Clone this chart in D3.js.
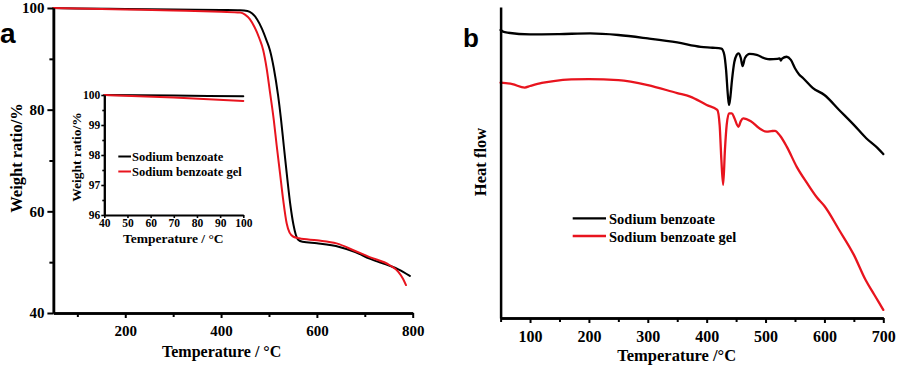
<!DOCTYPE html>
<html><head><meta charset="utf-8">
<script src="https://cdn.jsdelivr.net/npm/d3@7"></script>
<style>
html,body{margin:0;padding:0;background:#fff;}
svg text{font-family:"Liberation Serif","Times New Roman",serif;font-weight:bold;fill:#000;}
</style></head>
<body><svg id="c" width="898" height="367"></svg>
<script>
// ---------- DATA ----------
// Panel a: TGA, Temperature (°C) vs Weight ratio (%)
const tgaBenzoate = [[50,100],[100,99.9],[200,99.8],[300,99.7],[400,99.6],[440,99.55],[455,99.4],[465,98.9],[475,97.8],[485,96.0],[495,93.6],[502,91.7],[510,88.2],[519,82.8],[525,78.2],[531,72.8],[537,67.5],[545,61.0],[551,57.4],[556,55.4],[561,54.4],[570,54.0],[600,53.7],[647,53.0],[680,52.0],[710,50.7],[752,49.3],[770,48.6],[794,47.3]];
const tgaGel = [[50,100],[100,99.9],[200,99.7],[300,99.5],[400,99.25],[440,99.1],[450,98.7],[460,97.8],[470,96.2],[480,94.0],[488,91.7],[495,88.2],[502,83.5],[510,78.0],[516,73.0],[523,67.5],[530,62.0],[537,57.6],[543,55.8],[551,55.0],[563,54.7],[600,54.3],[641,53.7],[680,52.2],[710,51.0],[752,49.4],[770,48.1],[780,46.7],[786,45.5]];
// Inset (40-100 °C)
const insetBenzoate = [[40,100],[70,99.98],[100,99.96]];
const insetGel = [[40,100],[70,99.92],[100,99.8]];
// Panel b: DSC, Temperature (°C) vs Heat flow (arbitrary units)
const dscBenzoate = [[50,92.6],[57,91.9],[100,91.2],[150,91.3],[202,91.5],[250,91.0],[300,89.9],[350,88.6],[390,87.2],[410,86.9],[425,86.6],[430,84.6],[433,79.7],[436,71.7],[438,68.5],[440,70.7],[443,76.5],[447,82.3],[451,84.6],[454,85.1],[458,83.6],[461,81.0],[465,83.6],[473,84.9],[485,84.6],[500,83.4],[507,83.2],[520,83.3],[524,83.5],[526,82.8],[528,83.4],[536,84.0],[543,83.0],[550,80.3],[557,78.3],[564,77.1],[580,74.0],[600,71.7],[625,66.9],[650,62.1],[671,57.8],[690,54.7],[700,52.7]];
const dscGel = [[50,75.7],[70,75.2],[91,74.1],[100,74.6],[120,75.6],[140,76.2],[170,76.7],[200,76.8],[250,76.5],[300,74.9],[350,72.3],[372,71.2],[400,68.5],[418,66.9],[422,62.1],[425,50.8],[428,42.8],[431,54.0],[434,62.1],[438,65.8],[443,65.8],[447,64.3],[454,61.5],[458,63.3],[462,64.2],[475,63.3],[490,60.9],[502,59.9],[510,60.1],[516,60.2],[525,58.5],[536,55.1],[553,48.6],[570,43.5],[587,38.8],[600,36.0],[625,28.3],[650,20.3],[670,12.2],[685,7.4],[700,2.6]];
// Ticks and labels
const aXMajor = [200,400,600,800], aXMinor = [100,300,500,700];
const aYMajor = [40,60,80,100], aYMinor = [50,70,90];
const inXMajor = [40,50,60,70,80,90,100], inYMajor = [96,97,98,99,100], inYMinor = [96.5,97.5,98.5,99.5];
const bXMajor = [100,200,300,400,500,600,700], bXMinor = [50,150,250,350,450,550,650];
const seriesNames = ["Sodium benzoate","Sodium benzoate gel"];
const colors = ["#000000","#e8141e"];

// ---------- DRAW ----------
const svg = d3.select("#c");
const fmt = d3.format("d");

function axisGroup(g, axis, w){
  g.call(axis);
  g.select(".domain").attr("stroke","#000").attr("stroke-width",w);
  g.selectAll(".tick line").attr("stroke","#000").attr("stroke-width",w*0.8);
  return g;
}
function drawLine(g, data, x, y, color, w){
  g.append("path").datum(data)
    .attr("fill","none").attr("stroke",color).attr("stroke-width",w)
    .attr("stroke-linejoin","round").attr("stroke-linecap","round")
    .attr("d", d3.line().x(d=>x(d[0])).y(d=>y(d[1])).curve(d3.curveMonotoneX));
}

// Panel a
const ax = d3.scaleLinear().domain([50,800]).range([53.4,412.7]);
const ay = d3.scaleLinear().domain([40,100]).range([313,8]);
const ga = svg.append("g");
drawLine(ga, tgaBenzoate, ax, ay, colors[0], 2);
drawLine(ga, tgaGel, ax, ay, colors[1], 2);
axisGroup(ga.append("g").attr("transform","translate(0,313)"),
  d3.axisBottom(ax).tickValues(aXMinor).tickSize(4).tickSizeOuter(0).tickFormat(""), 2.5);
axisGroup(ga.append("g").attr("transform","translate(0,313)"),
  d3.axisBottom(ax).tickValues(aXMajor).tickSize(5).tickPadding(7).tickSizeOuter(0).tickFormat(fmt), 2.5)
  .selectAll("text").style("font-size","15px");
axisGroup(ga.append("g").attr("transform","translate(53.4,0)"),
  d3.axisLeft(ay).tickValues(aYMinor).tickSize(4).tickSizeOuter(0).tickFormat(""), 2.5);
axisGroup(ga.append("g").attr("transform","translate(53.4,0)"),
  d3.axisLeft(ay).tickValues(aYMajor).tickSize(6).tickPadding(3).tickSizeOuter(0).tickFormat(fmt), 2.5)
  .selectAll("text").style("font-size","15px");
ga.append("text").attr("x",221.7).attr("y",357).attr("text-anchor","middle")
  .style("font-size","16px").text("Temperature / °C");
ga.append("text").attr("transform","translate(22,158) rotate(-90)").attr("text-anchor","middle")
  .style("font-size","16.5px").text("Weight ratio/%");
ga.append("text").attr("x",0).attr("y",43)
  .style("font-family","'Liberation Sans',Arial,sans-serif").style("font-size","28px").text("a");

// Inset
const ix = d3.scaleLinear().domain([40,100]).range([104.3,243.3]);
const iy = d3.scaleLinear().domain([96,100]).range([215,95]);
const gi = svg.append("g");
drawLine(gi, insetBenzoate, ix, iy, colors[0], 2);
drawLine(gi, insetGel, ix, iy, colors[1], 2);
axisGroup(gi.append("g").attr("transform","translate(0,215)"),
  d3.axisBottom(ix).tickValues(inXMajor).tickSize(3).tickPadding(1).tickSizeOuter(0).tickFormat(fmt), 2)
  .selectAll("text").style("font-size","11.5px");
axisGroup(gi.append("g").attr("transform","translate(104.3,0)"),
  d3.axisLeft(iy).tickValues(inYMinor).tickSize(2).tickSizeOuter(0).tickFormat(""), 2);
axisGroup(gi.append("g").attr("transform","translate(104.3,0)"),
  d3.axisLeft(iy).tickValues(inYMajor).tickSize(3).tickPadding(1).tickSizeOuter(0).tickFormat(fmt), 2)
  .selectAll("text").style("font-size","11.5px");
gi.append("text").attr("x",173.3).attr("y",243).attr("text-anchor","middle")
  .style("font-size","13.5px").text("Temperature / °C");
gi.append("text").attr("transform","translate(81,157) rotate(-90)").attr("text-anchor","middle")
  .style("font-size","13.5px").text("Weight ratio/%");
const legA = [156.5,171.5];
seriesNames.forEach((n,i)=>{
  gi.append("line").attr("x1",118.3).attr("x2",131).attr("y1",legA[i]).attr("y2",legA[i])
    .attr("stroke",colors[i]).attr("stroke-width",2);
  gi.append("text").attr("x",132).attr("y",legA[i]+4).style("font-size","12.5px").text(n);
});

// Panel b
const bx = d3.scaleLinear().domain([50,700]).range([500.6,883.3]);
const by = d3.scaleLinear().domain([0,100]).range([318,7]);
const gb = svg.append("g");
drawLine(gb, dscBenzoate, bx, by, colors[0], 2.3);
drawLine(gb, dscGel, bx, by, colors[1], 2.3);
axisGroup(gb.append("g").attr("transform","translate(0,318)"),
  d3.axisBottom(bx).tickValues(bXMinor).tickSize(4).tickSizeOuter(0).tickFormat(""), 2.5);
axisGroup(gb.append("g").attr("transform","translate(0,318)"),
  d3.axisBottom(bx).tickValues(bXMajor).tickSize(5).tickPadding(8).tickSizeOuter(0).tickFormat(fmt), 2.5)
  .selectAll("text").style("font-size","16px");
axisGroup(gb.append("g").attr("transform","translate(500.6,0)"),
  d3.axisLeft(by).tickValues([]).tickSizeOuter(0), 2.5);
gb.append("text").attr("x",676.7).attr("y",361).attr("text-anchor","middle")
  .style("font-size","16.5px").text("Temperature /°C");
gb.append("text").attr("transform","translate(486,162) rotate(-90)").attr("text-anchor","middle")
  .style("font-size","16.5px").text("Heat flow");
gb.append("text").attr("x",463).attr("y",46.5)
  .style("font-family","'Liberation Sans',Arial,sans-serif").style("font-size","26px").text("b");
const legB = [218.3,236];
seriesNames.forEach((n,i)=>{
  gb.append("line").attr("x1",572.7).attr("x2",606).attr("y1",legB[i]).attr("y2",legB[i])
    .attr("stroke",colors[i]).attr("stroke-width",2.3);
  gb.append("text").attr("x",609).attr("y",legB[i]+5.5).style("font-size","14.5px").text(n);
});
</script></body></html>
